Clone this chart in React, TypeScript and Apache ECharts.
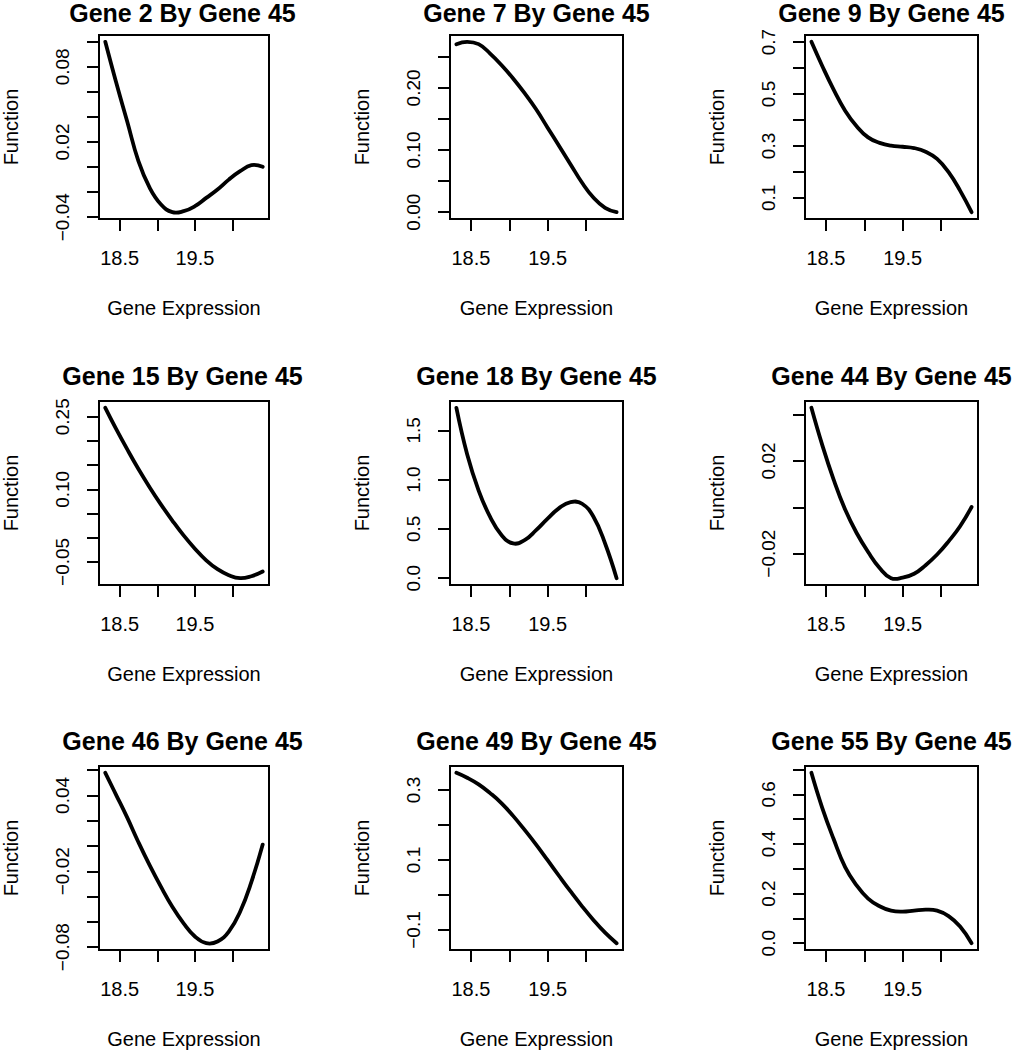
import React, { useEffect, useRef } from "react";
import * as echarts from "echarts";

// Shared x grid (Gene 45 expression) and x-axis ticks
const xValues = [18.31, 18.45, 18.6, 18.75, 18.9, 19.05, 19.2, 19.35, 19.5, 19.65, 19.8, 19.95, 20.1, 20.25, 20.4];
const xTicks = [18.5, 19, 19.5, 20];
const xTickLabels = [18.5, 19.5];

const titles = [
  "Gene 2 By Gene 45", "Gene 7 By Gene 45", "Gene 9 By Gene 45",
  "Gene 15 By Gene 45", "Gene 18 By Gene 45", "Gene 44 By Gene 45",
  "Gene 46 By Gene 45", "Gene 49 By Gene 45", "Gene 55 By Gene 45",
];

// Function values for each panel
const gene2 = [0.1, 0.0685, 0.0366, 0.0047, -0.0166, -0.0299, -0.036, -0.0352, -0.0312, -0.0246, -0.0179, -0.01, -0.0033, 0.0015, 0.0002];
const gene7 = [0.2704, 0.2742, 0.2704, 0.2553, 0.2365, 0.2152, 0.1915, 0.1656, 0.136, 0.1065, 0.0769, 0.0473, 0.0231, 0.007, 0.0];
const gene9 = [0.701, 0.609, 0.517, 0.436, 0.376, 0.333, 0.312, 0.301, 0.297, 0.292, 0.278, 0.25, 0.199, 0.128, 0.045];
const gene15 = [0.2685, 0.226, 0.183, 0.142, 0.104, 0.0685, 0.0356, 0.0048, -0.0226, -0.0466, -0.065, -0.0774, -0.0836, -0.0795, -0.0699];
const gene18 = [1.728, 1.258, 0.889, 0.621, 0.436, 0.352, 0.386, 0.487, 0.604, 0.711, 0.772, 0.755, 0.621, 0.352, 0.0];
const gene44 = [0.0429, 0.027, 0.0119, -0.001, -0.0111, -0.0193, -0.0262, -0.0306, -0.0304, -0.0287, -0.025, -0.0204, -0.0147, -0.0082, 0.0001];
const gene46 = [0.0579, 0.0409, 0.0226, 0.003, -0.0154, -0.0324, -0.0481, -0.0612, -0.0716, -0.0769, -0.0756, -0.0677, -0.052, -0.0284, 0.0011];
const gene49 = [0.349, 0.335, 0.316, 0.291, 0.262, 0.226, 0.186, 0.144, 0.0994, 0.0543, 0.0101, -0.0323, -0.0718, -0.1075, -0.1376];
const gene55 = [0.687, 0.547, 0.42, 0.307, 0.233, 0.18, 0.149, 0.131, 0.127, 0.131, 0.135, 0.131, 0.109, 0.067, 0.0];

// Y-axis ticks and labelled ticks per panel
const yTicks2 = [-0.04, -0.02, 0, 0.02, 0.04, 0.06, 0.08, 0.1];
const yLabels2 = [-0.04, 0.02, 0.08];
const yTicks7 = [0, 0.05, 0.1, 0.15, 0.2, 0.25];
const yLabels7 = [0, 0.1, 0.2];
const yTicks9 = [0.1, 0.2, 0.3, 0.4, 0.5, 0.6, 0.7];
const yLabels9 = [0.1, 0.3, 0.5, 0.7];
const yTicks15 = [-0.05, 0, 0.05, 0.1, 0.15, 0.2, 0.25];
const yLabels15 = [-0.05, 0.1, 0.25];
const yTicks18 = [0, 0.5, 1, 1.5];
const yLabels18 = [0, 0.5, 1, 1.5];
const yTicks44 = [-0.02, 0, 0.02, 0.04];
const yLabels44 = [-0.02, 0.02];
const yTicks46 = [-0.08, -0.06, -0.04, -0.02, 0, 0.02, 0.04, 0.06];
const yLabels46 = [-0.08, -0.02, 0.04];
const yTicks49 = [-0.1, 0, 0.1, 0.2, 0.3];
const yLabels49 = [-0.1, 0.1, 0.3];
const yTicks55 = [0, 0.1, 0.2, 0.3, 0.4, 0.5, 0.6, 0.7];
const yLabels55 = [0, 0.2, 0.4, 0.6];
const yDecimals = [2, 2, 1, 2, 1, 2, 2, 1, 1];

const panelValues = [gene2, gene7, gene9, gene15, gene18, gene44, gene46, gene49, gene55];
const panelTicks = [yTicks2, yTicks7, yTicks9, yTicks15, yTicks18, yTicks44, yTicks46, yTicks49, yTicks55];
const panelLabels = [yLabels2, yLabels7, yLabels9, yLabels15, yLabels18, yLabels44, yLabels46, yLabels49, yLabels55];

const FONT = "'Liberation Sans', Arial, Helvetica, sans-serif";
const colLefts = [96, 450, 805];
const rowTops = [35, 401, 766];
const boxW = 173;
const boxH = 184;

function padRange(vals: number[]) {
  const lo = Math.min(...vals);
  const hi = Math.max(...vals);
  const d = (hi - lo) * 0.04;
  return [lo - d, hi + d];
}

function fmt(v: number, dec: number) {
  const s = Math.abs(v) < 1e-12 ? (0).toFixed(dec) : v.toFixed(dec);
  return s.replace("-", "\u2212");
}

export default function App() {
  const ref = useRef<HTMLDivElement>(null);
  useEffect(() => {
    document.body.style.margin = "0";
    const chart = echarts.init(ref.current!, undefined, { renderer: "svg" });
    const grids: any[] = [];
    const xAxes: any[] = [];
    const yAxes: any[] = [];
    const series: any[] = [];
    const graphics: any[] = [];
    const [xmin, xmax] = padRange(xValues);
    panelValues.forEach((vals, i) => {
      const left = colLefts[i % 3];
      const top = rowTops[Math.floor(i / 3)];
      const [ymin, ymax] = padRange(vals);
      const dec = yDecimals[i];
      grids.push({
        left, top, width: boxW, height: boxH,
        show: true, borderColor: "#000", borderWidth: 2, backgroundColor: "transparent",
        containLabel: false,
      });
      xAxes.push({
        type: "value", gridIndex: i, min: xmin, max: xmax, position: "bottom",
        axisLine: { show: false, onZero: false },
        splitLine: { show: false },
        axisTick: { show: true, length: 12, customValues: xTicks, lineStyle: { color: "#000", width: 2 } },
        axisLabel: {
          customValues: xTickLabels, margin: 29, fontSize: 20, color: "#000", fontFamily: FONT,
          formatter: (v: number) => v.toFixed(1),
        },
        name: "Gene Expression", nameLocation: "middle", nameGap: 79,
        nameTextStyle: { fontSize: 20, color: "#000", fontFamily: FONT },
      });
      yAxes.push({
        type: "value", gridIndex: i, min: ymin, max: ymax, position: "left",
        axisLine: { show: false, onZero: false },
        splitLine: { show: false },
        axisTick: { show: true, length: 12, customValues: panelTicks[i], lineStyle: { color: "#000", width: 2 } },
        axisLabel: {
          customValues: panelLabels[i], rotate: 90, margin: 27, fontSize: 19, color: "#000", fontFamily: FONT,
          formatter: (v: number) => fmt(v, dec),
        },
        name: "Function", nameLocation: "middle", nameRotate: 90, nameGap: 78,
        nameTextStyle: { fontSize: 20, color: "#000", fontFamily: FONT },
      });
      series.push({
        type: "custom", coordinateSystem: "cartesian2d", xAxisIndex: i, yAxisIndex: i,
        data: xValues.map((x, k) => [x, vals[k]]),
        encode: { x: 0, y: 1 },
        clip: false,
        renderItem: (params: any, api: any) => {
          if (params.dataIndexInside !== 0) return null;
          const n = params.dataInsideLength;
          const pts: number[][] = [];
          for (let k = 0; k < n; k++) {
            pts.push(api.coord([api.value(0, k), api.value(1, k)]));
          }
          return {
            type: "polyline",
            shape: { points: pts, smooth: 0.45 },
            style: { stroke: "#000", lineWidth: 3.8, fill: "none", lineCap: "round", lineJoin: "round" },
          };
        },
      });
      graphics.push({
        type: "text", x: left + boxW / 2, y: Math.max(0, top - 38),
        style: {
          text: titles[i], fill: "#000",
          font: `bold 25px ${FONT}`,
          align: "center", verticalAlign: "top",
          textAlign: "center", textVerticalAlign: "top",
        },
      });
    });
    chart.setOption({
      animation: false,
      backgroundColor: "#fff",
      grid: grids,
      xAxis: xAxes,
      yAxis: yAxes,
      series,
      graphic: graphics,
    });
    return () => chart.dispose();
  }, []);
  return <div ref={ref} style={{ position: "absolute", left: 0, top: 0, width: 1018, height: 1050 }} />;
}
